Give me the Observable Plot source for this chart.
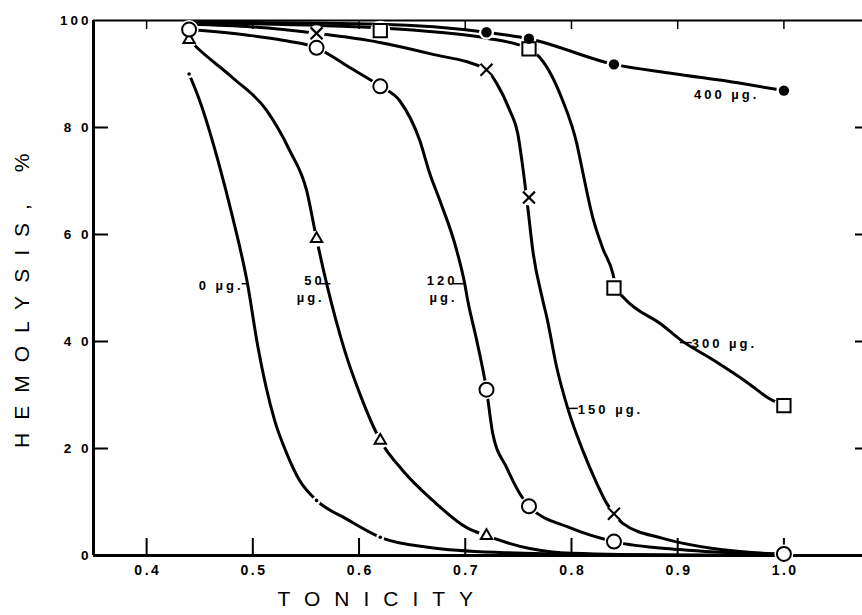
<!DOCTYPE html>
<html><head><meta charset="utf-8">
<script src="https://cdn.jsdelivr.net/npm/d3@7"></script>
<script src="https://cdn.jsdelivr.net/npm/@observablehq/plot@0.6"></script>
<style>
html,body{margin:0;padding:0;background:#fff;}
</style></head><body><div id="chart"></div>
<script>
// ---- axis ticks ----
const xTicks = [0.4, 0.5, 0.6, 0.7, 0.8, 0.9, 1.0];
const xTickLabels = ["0.4", "0.5", "0.6", "0.7", "0.8", "0.9", "1.0"];
const yTicks = [0, 20, 40, 60, 80, 100];
const yTickLabels = ["0", "2 0", "4 0", "6 0", "8 0", "100"];
const xTitle = "TONICITY";
const yTitle = "HEMOLYSIS, %";

// ---- measured points (markers) ----
const pts0X = [0.44, 0.56, 0.62];
const pts0Y = [90, 10.3, 3.4];
const pts50X = [0.44, 0.56, 0.62, 0.72];
const pts50Y = [96.4, 59.2, 21.5, 3.7];
const pts120X = [0.44, 0.56, 0.62, 0.72, 0.76, 0.84, 1.0];
const pts120Y = [98.3, 94.9, 87.7, 31, 9.2, 2.6, 0.3];
const pts150X = [0.56, 0.72, 0.76, 0.84];
const pts150Y = [97.6, 90.8, 66.9, 7.8];
const pts300X = [0.62, 0.76, 0.84, 1.0];
const pts300Y = [98.1, 94.7, 50, 28];
const pts400X = [0.72, 0.76, 0.84, 1.0];
const pts400Y = [97.8, 96.6, 91.8, 86.9];

// ---- drawn curves ----
const curve0X = [0.44, 0.45, 0.469, 0.481, 0.495, 0.5045, 0.5206, 0.5319, 0.5441, 0.56, 0.5884, 0.62, 0.6666, 0.7325, 0.8267, 1.0];
const curve0Y = [90, 85, 72.5, 63.2, 50.8, 39.3, 25.2, 19.1, 14.0, 10.3, 6.8, 3.4, 1.5, 0.56, 0.19, 0];
const curve50X = [0.44, 0.4471, 0.481, 0.513, 0.5347, 0.5507, 0.56, 0.5695, 0.5865, 0.6006, 0.62, 0.6411, 0.6694, 0.7014, 0.72, 0.7607, 0.8003, 0.9, 1.0];
const curve50Y = [96.4, 95, 89.3, 83.2, 75.7, 68.2, 59.2, 50.8, 38.3, 30.3, 21.5, 15.9, 10.3, 5.2, 3.7, 1.3, 0.4, 0.05, 0];
const curve120X = [0.44, 0.497, 0.528, 0.56, 0.5912, 0.62, 0.6383, 0.6571, 0.6666, 0.676, 0.692, 0.6995, 0.7023, 0.7108, 0.72, 0.7259, 0.7391, 0.7513, 0.76, 0.7984, 0.84, 0.902, 1.0];
const curve120Y = [98.3, 97.2, 96.3, 94.9, 91.2, 87.7, 85.0, 77.6, 71.4, 66.4, 57.0, 50.8, 47.7, 40.2, 31.0, 22.8, 16.4, 11.6, 9.2, 5.2, 2.6, 1.1, 0.2];
const curve150X = [0.44, 0.50, 0.56, 0.6195, 0.6666, 0.72, 0.7297, 0.7419, 0.7494, 0.7542, 0.7589, 0.7636, 0.773, 0.7768, 0.7862, 0.7965, 0.8107, 0.8238, 0.8333, 0.84, 0.8483, 0.886, 0.9331, 1.0];
const curve150Y = [99.3, 98.8, 97.6, 95.9, 93.8, 90.8, 88.2, 83.2, 78.9, 72.5, 65.0, 57.0, 47.7, 44.5, 35.1, 27.5, 19.6, 13.5, 9.7, 7.85, 6.0, 3.2, 1.3, 0.2];
const curve300X = [0.44, 0.62, 0.675, 0.72, 0.76, 0.7702, 0.7918, 0.805, 0.8107, 0.820, 0.8295, 0.839, 0.842, 0.8502, 0.886, 0.902, 0.9331, 0.9651, 0.9849, 1.0];
const curve300Y = [99.6, 98.6, 97.8, 96.7, 94.7, 93.1, 85.0, 77.0, 71.6, 63.2, 57.4, 52.7, 50, 48.0, 43.0, 40.4, 36.6, 32.4, 29.5, 28.0];
const curve400X = [0.44, 0.62, 0.72, 0.76, 0.84, 0.895, 0.958, 1.0];
const curve400Y = [99.7, 99.3, 97.8, 96.6, 91.8, 90.1, 88.3, 86.9];

// ---- curve labels (text, leader from x1 to curve at x2, at y) ----
const labelText = ["0 µg.", "50\nµg.", "120\nµg.", "150 µg.", "300 µg.", "400 µg."];
const labelSide = ["left", "left", "left", "right", "right", "left"];
const leaderX1 = [0.4895, 0.563, 0.688, 0.806, 0.9133, 0.975];
const leaderX2 = [0.495, 0.573, 0.6995, 0.7965, 0.902, 0.975];
const leaderY = [50.8, 50.8, 50.8, 27.5, 39.8, 86.5];

const zip = (s, xs, ys) => xs.map((x, i) => ({series: s, x, y: ys[i]}));
const curves = [
  ...zip("0", curve0X, curve0Y), ...zip("50", curve50X, curve50Y),
  ...zip("120", curve120X, curve120Y), ...zip("150", curve150X, curve150Y),
  ...zip("300", curve300X, curve300Y), ...zip("400", curve400X, curve400Y)
];
const m0 = zip("0", pts0X, pts0Y), m50 = zip("50", pts50X, pts50Y),
      m120 = zip("120", pts120X, pts120Y), m150 = zip("150", pts150X, pts150Y),
      m300 = zip("300", pts300X, pts300Y), m400 = zip("400", pts400X, pts400Y);
const labels = labelText.map((t, i) => ({text: t, side: labelSide[i], x1: leaderX1[i], x2: leaderX2[i], y: leaderY[i], multi: t.includes("\n")}));
const leaders = labels.filter(d => d.x1 !== d.x2);

const halo = (data, r) => Plot.dot(data, {x: "x", y: "y", r, fill: "white", stroke: "none"});

const chart = Plot.plot({
  width: 862, height: 615,
  marginLeft: 93, marginRight: 0, marginTop: 20, marginBottom: 60,
  x: {domain: [0.35, 1.074], axis: null},
  y: {domain: [0, 100], axis: null},
  style: {fontFamily: "'Liberation Sans', Arial, sans-serif", background: "white", color: "black"},
  marks: [
    // frame
    Plot.ruleY([0], {strokeWidth: 3}),
    Plot.ruleY([100], {strokeWidth: 2}),
    Plot.ruleX([0.35], {strokeWidth: 3}),
    // inward ticks
    Plot.tickX(xTicks, {x: d => d, insetTop: 518, strokeWidth: 2}),
    Plot.tickX(xTicks, {x: d => d, insetBottom: 526, strokeWidth: 1.5}),
    Plot.tickY(yTicks.slice(1, 5), {y: d => d, insetRight: 754, strokeWidth: 2}),
    Plot.tickY(yTicks.slice(1, 5), {y: d => d, insetLeft: 762, strokeWidth: 2}),
    // tick labels
    Plot.text(xTicks, {x: d => d, text: (d, i) => xTickLabels[i], frameAnchor: "bottom", dy: 19, dx: 1.25, fontSize: 14, fontWeight: "bold"}),
    Plot.text(yTicks, {y: d => d, text: (d, i) => yTickLabels[i], frameAnchor: "left", textAnchor: "end", dx: -2, fontSize: 13.5, fontWeight: "bold"}),
    // titles
    Plot.text([xTitle], {text: d => d, frameAnchor: "bottom-left", textAnchor: "start", dx: 184, dy: 50, fontSize: 21}),
    Plot.text([yTitle], {text: d => d, frameAnchor: "left", textAnchor: "start", dx: -71, dy: 160, rotate: -90, fontSize: 21}),
    // curves
    Plot.line(curves, {x: "x", y: "y", z: "series", curve: "monotone-x", stroke: "black", strokeWidth: 3}),
    // gaps around markers
    halo(m0, 4), halo(m50, 8), halo(m120, 9.5), halo(m150, 8), halo(m300, 10), halo(m400, 7.5),
    // markers
    Plot.dot(m0, {x: "x", y: "y", r: 1.8, fill: "black"}),
    Plot.dot(m50, {x: "x", y: "y", symbol: "triangle", r: 4.2, fill: "white", stroke: "black", strokeWidth: 2}),
    Plot.dot(m120, {x: "x", y: "y", symbol: "circle", r: 7, fill: "white", stroke: "black", strokeWidth: 2}),
    Plot.dot(m150, {x: "x", y: "y", symbol: "times", r: 5.5, stroke: "black", strokeWidth: 2.2}),
    Plot.dot(m300, {x: "x", y: "y", symbol: "square", r: 7.5, fill: "white", stroke: "black", strokeWidth: 2}),
    Plot.dot(m400, {x: "x", y: "y", r: 5.2, fill: "black"}),
    // curve labels
    Plot.link(leaders, {x1: "x1", x2: "x2", y1: "y", y2: "y", stroke: "black", strokeWidth: 1.5}),
    Plot.text(labels.filter(d => d.side === "left" && !d.multi), {x: "x1", y: "y", text: "text", textAnchor: "end", dx: 2, dy: 2, fontSize: 13, fontWeight: "bold"}),
    Plot.text(labels.filter(d => d.multi), {x: "x1", y: "y", text: "text", textAnchor: "end", dx: 5, dy: 4, lineHeight: 1.3, fontSize: 13, fontWeight: "bold"}),
    Plot.text(labels.filter(d => d.side === "right"), {x: "x1", y: "y", text: "text", textAnchor: "start", dx: 0, dy: 1, fontSize: 13, fontWeight: "bold"})
  ]
});

// letter spacing of the original lettering
const spacing = new Map([
  ...xTickLabels.map(t => [t, 2.5]),
  ...yTickLabels.map(t => [t, 3]),
  ...labelText.map(t => [t.replace("\n", ""), 3]),
  [xTitle, 14], [yTitle, 13]
]);
chart.querySelectorAll("text").forEach(t => {
  const s = spacing.get(t.textContent);
  if (s != null) t.setAttribute("letter-spacing", s + "px");
});
document.getElementById("chart").appendChild(chart);
</script></body></html>
